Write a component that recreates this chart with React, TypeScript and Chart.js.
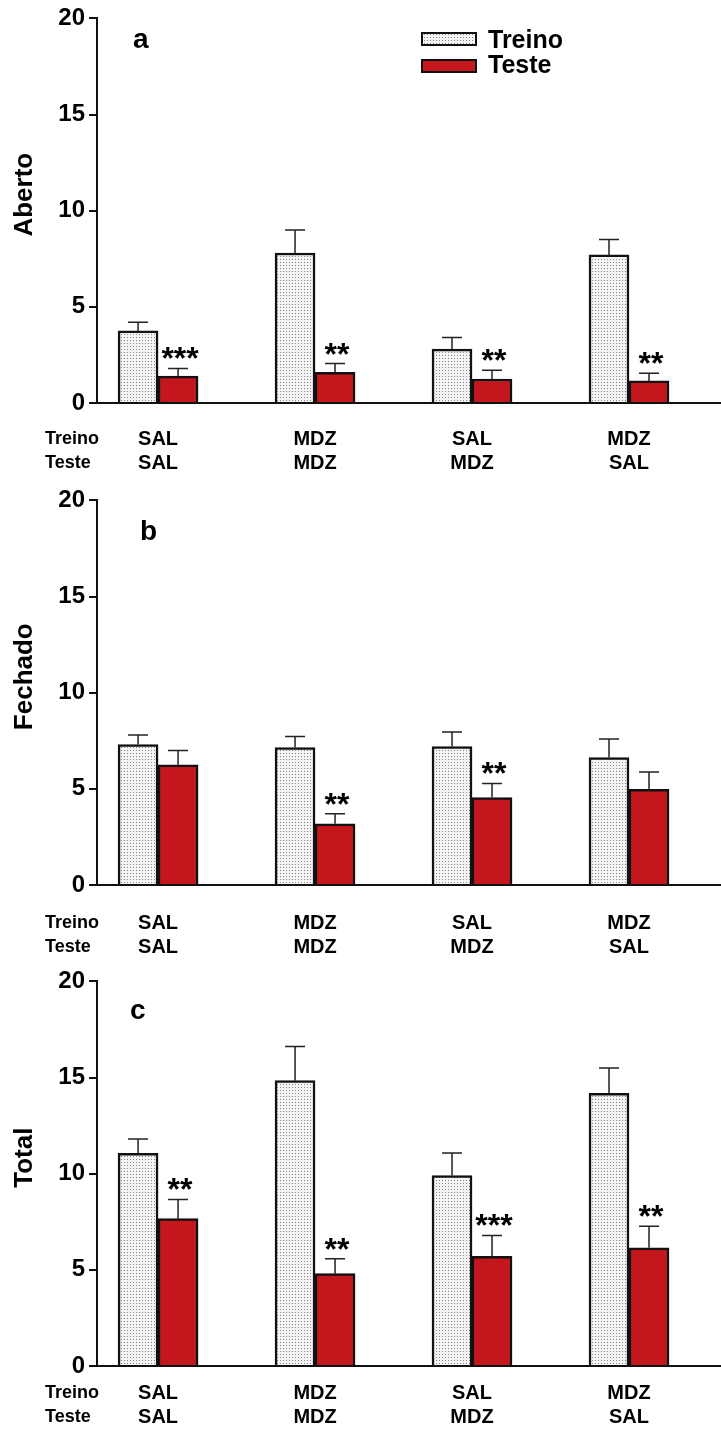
import React, { useEffect, useRef } from 'react';
import { Chart, registerables } from 'chart.js';

Chart.register(...registerables);

// ---------- data ----------
const treinoDrugs = ['SAL', 'MDZ', 'SAL', 'MDZ'];
const testeDrugs = ['SAL', 'MDZ', 'MDZ', 'SAL'];
const rowLabels = ['Treino', 'Teste'];
const seriesNames = ['Treino', 'Teste'];
const yMin = 0;
const yMax = 20;
const yStep = 5;

const abertoTreino = [3.75, 7.8, 2.8, 7.7];
const abertoTreinoSem = [0.45, 1.2, 0.6, 0.8];
const abertoTeste = [1.4, 1.6, 1.25, 1.15];
const abertoTesteSem = [0.4, 0.45, 0.45, 0.4];
const abertoStars = ['***', '**', '**', '**'];

const fechadoTreino = [7.3, 7.15, 7.2, 6.63];
const fechadoTreinoSem = [0.5, 0.57, 0.75, 0.96];
const fechadoTeste = [6.25, 3.18, 4.55, 4.98];
const fechadoTesteSem = [0.75, 0.52, 0.73, 0.9];
const fechadoStars = ['', '**', '**', ''];

const totalTreino = [11.06, 14.84, 9.9, 14.18];
const totalTreinoSem = [0.74, 1.78, 1.18, 1.32];
const totalTeste = [7.66, 4.8, 5.7, 6.15];
const totalTesteSem = [1.0, 0.78, 1.09, 1.12];
const totalStars = ['**', '**', '***', '**'];

// ---------- layout / style ----------
const FONT = "'Liberation Sans', Arial, Helvetica, sans-serif";
const W = 721;
const RED = '#c4171d';

const panels = [
  {
    key: 'a', letter: 'a', title: 'Aberto', top: 0, height: 480, labelPad: 24,
    letterPos: [133, 48], legend: true,
    treino: abertoTreino, treinoSem: abertoTreinoSem, teste: abertoTeste, testeSem: abertoTesteSem, stars: abertoStars,
  },
  {
    key: 'b', letter: 'b', title: 'Fechado', top: 482, height: 480, labelPad: 26,
    letterPos: [140, 58], legend: false,
    treino: fechadoTreino, treinoSem: fechadoTreinoSem, teste: fechadoTeste, testeSem: fechadoTesteSem, stars: fechadoStars,
  },
  {
    key: 'c', letter: 'c', title: 'Total', top: 963, height: 473, labelPad: 15,
    letterPos: [130, 56], legend: false,
    treino: totalTreino, treinoSem: totalTreinoSem, teste: totalTeste, testeSem: totalTesteSem, stars: totalStars,
  },
];

function makePattern(ctx: CanvasRenderingContext2D) {
  const c = document.createElement('canvas');
  c.width = 3;
  c.height = 3;
  const g = c.getContext('2d')!;
  g.fillStyle = '#f4f4f4';
  g.fillRect(0, 0, 3, 3);
  g.fillStyle = '#858585';
  g.fillRect(1, 1, 1, 1);
  return ctx.createPattern(c, 'repeat')!;
}

function Panel({ p }: { p: any }) {
  const ref = useRef<HTMLCanvasElement | null>(null);

  useEffect(() => {
    const canvas = ref.current!;
    const ctx = canvas.getContext('2d')!;
    const pattern = makePattern(ctx);
    const sems = [p.treinoSem, p.testeSem];

    const overlay = {
      id: 'overlay',
      afterDatasetsDraw(chart: any) {
        const c = chart.ctx as CanvasRenderingContext2D;
        const ys = chart.scales.y;
        c.save();
        // error bars
        c.strokeStyle = '#222';
        c.lineWidth = 1.5;
        [0, 1].forEach((di) => {
          const meta = chart.getDatasetMeta(di);
          meta.data.forEach((el: any, j: number) => {
            const v = chart.data.datasets[di].data[j].y;
            const topPx = ys.getPixelForValue(v + sems[di][j]);
            c.beginPath();
            c.moveTo(el.x, el.y);
            c.lineTo(el.x, topPx);
            c.moveTo(el.x - 10, topPx);
            c.lineTo(el.x + 10, topPx);
            c.stroke();
          });
        });
        // significance stars
        c.fillStyle = '#000';
        c.font = `bold 32px ${FONT}`;
        c.textAlign = 'center';
        c.textBaseline = 'alphabetic';
        const tMeta = chart.getDatasetMeta(1);
        tMeta.data.forEach((el: any, j: number) => {
          const s = p.stars[j];
          if (!s) return;
          const v = chart.data.datasets[1].data[j].y;
          const topPx = ys.getPixelForValue(v + p.testeSem[j]);
          c.fillText(s, el.x + 2, topPx + 1);
        });
        c.restore();
      },
      afterDraw(chart: any) {
        const c = chart.ctx as CanvasRenderingContext2D;
        const area = chart.chartArea;
        c.save();
        c.fillStyle = '#000';
        // panel letter
        c.font = `bold 28px ${FONT}`;
        c.textAlign = 'left';
        c.textBaseline = 'alphabetic';
        c.fillText(p.letter, p.letterPos[0], p.letterPos[1]);
        // y title
        c.save();
        c.translate(25, (area.top + area.bottom) / 2 - 16);
        c.rotate(-Math.PI / 2);
        c.font = `bold 26px ${FONT}`;
        c.textAlign = 'center';
        c.textBaseline = 'middle';
        c.fillText(p.title, 0, 0);
        c.restore();
        // row labels
        c.font = `bold 18px ${FONT}`;
        c.textAlign = 'left';
        c.textBaseline = 'middle';
        const y0 = area.bottom + p.labelPad + 12;
        c.fillText(rowLabels[0], 45, y0);
        c.fillText(rowLabels[1], 45, y0 + 24);
        // legend
        if (p.legend) {
          const bx = 422, bw = 54;
          const items = [
            { fill: pattern, y: 33, h: 12, label: seriesNames[0], ty: 41 },
            { fill: RED, y: 60, h: 12, label: seriesNames[1], ty: 66 },
          ];
          items.forEach((it) => {
            c.fillStyle = it.fill as any;
            c.fillRect(bx, it.y, bw, it.h);
            c.strokeStyle = '#111';
            c.lineWidth = 2;
            c.strokeRect(bx, it.y, bw, it.h);
            c.fillStyle = '#000';
            c.font = `bold 25px ${FONT}`;
            c.textBaseline = 'middle';
            c.fillText(it.label, 488, it.ty);
          });
        }
        c.restore();
      },
    };

    const chart = new Chart(canvas, {
      type: 'bar',
      data: {
        datasets: [
          {
            label: seriesNames[0],
            data: p.treino.map((v: number, i: number) => ({ x: i + 1, y: v })),
            backgroundColor: pattern as any,
            borderColor: '#111',
            borderWidth: 2.5,
            barThickness: 40,
          },
          {
            label: seriesNames[1],
            data: p.teste.map((v: number, i: number) => ({ x: i + 1, y: v })),
            backgroundColor: RED,
            borderColor: '#111',
            borderWidth: 2.5,
            barThickness: 40,
          },
        ],
      },
      options: {
        responsive: false,
        animation: false,
        events: [],
        layout: { padding: { left: 0, right: 0, top: 18, bottom: 0 } },
        plugins: { legend: { display: false }, tooltip: { enabled: false } },
        scales: {
          x: {
            type: 'linear',
            offset: false,
            bounds: 'ticks',
            min: 0.611,
            max: 4.586,
            afterBuildTicks: (s: any) => {
              s.ticks = treinoDrugs.map((_, i) => ({ value: i + 1 }));
            },
            afterFit: (s: any) => {
              s.height = p.height - 403;
            },
            ticks: {
              autoSkip: false,
              maxRotation: 0,
              padding: p.labelPad,
              color: '#000',
              font: { family: FONT, size: 20, weight: 'bold', lineHeight: 1.2 },
              callback: (v: any) => [treinoDrugs[v - 1], testeDrugs[v - 1]],
            },
            grid: { display: false, drawTicks: false, offset: false },
            border: { display: true, color: '#111', width: 2 },
          },
          y: {
            min: yMin,
            max: yMax,
            afterFit: (s: any) => {
              s.width = 97;
            },
            ticks: {
              stepSize: yStep,
              padding: 4,
              color: '#000',
              font: { family: FONT, size: 24, weight: 'bold' },
            },
            grid: { drawOnChartArea: false, drawTicks: true, tickLength: 8, color: '#111', lineWidth: 2 },
            border: { display: true, color: '#111', width: 2 },
          },
        },
      } as any,
      plugins: [overlay],
    });
    return () => chart.destroy();
  }, []);

  return (
    <div style={{ position: 'absolute', left: 0, top: p.top, width: W, height: p.height }}>
      <canvas ref={ref} width={W} height={p.height} style={{ display: 'block' }} />
    </div>
  );
}

export default function App() {
  return (
    <div style={{ position: 'absolute', left: 0, top: 0, width: W, height: 1436, background: '#fff' }}>
      {panels.map((p) => (
        <Panel key={p.key} p={p} />
      ))}
    </div>
  );
}
